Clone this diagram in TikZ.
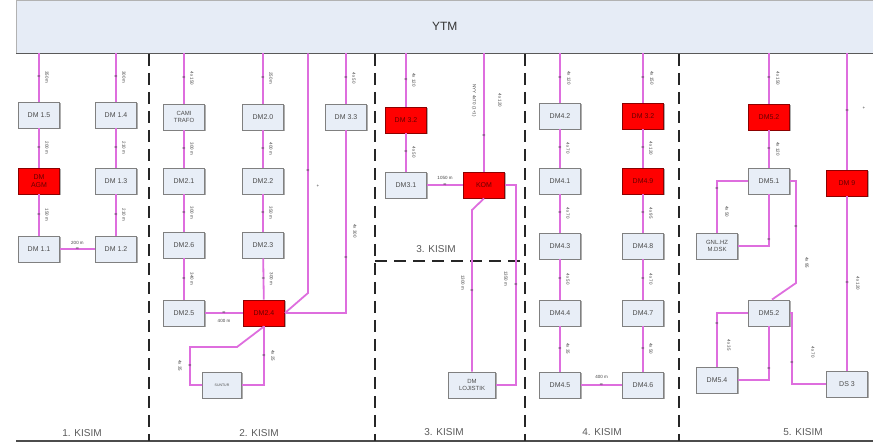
\documentclass[tikz,border=0pt]{standalone}
\usepackage{fontspec}
\setmainfont{Liberation Sans}
\usetikzlibrary{shadows}
\definecolor{boxfill}{RGB}{232,238,247}
\definecolor{hdrfill}{RGB}{230,236,246}
\definecolor{cablec}{RGB}{222,110,222}
\tikzset{
 box/.style={draw=black!50, fill=boxfill, line width=0.9pt, minimum width=41pt, minimum height=26pt, inner sep=1pt, align=center, font=\fontsize{7}{8}\selectfont, text=black!70, drop shadow={shadow xshift=1pt, shadow yshift=-1.2pt, fill=black!45, opacity=0.7}},
 redbox/.style={box, fill=red, draw=red!55!black, text=red!40!black},
 cable/.style={draw=cablec, line width=1.8pt},
 vl/.style={font=\fontsize{4.5}{4.5}\selectfont, text=black!75, rotate=-90, inner sep=0pt},
 mk/.style={font=\fontsize{5.5}{5.5}\selectfont, text=black!80, inner sep=0pt},
 hl/.style={font=\fontsize{4.5}{4.5}\selectfont, text=black!75, inner sep=1pt},
 sep/.style={draw=black!85, line width=2.2pt, dash pattern=on 12pt off 7pt},
 kisim/.style={font=\fontsize{10}{10}\selectfont, text=black!65},
}
\begin{document}
\begin{tikzpicture}[x=1pt,y=-1pt]
\useasboundingbox (0,0) rectangle (873,443);
% header
\node[draw=black!30, fill=hdrfill, minimum width=857pt, minimum height=53pt, anchor=north west, inner sep=0pt, font=\fontsize{12}{12}\selectfont, text=black!80] (hdr) at (16,0) {YTM};
\draw[black!65, line width=1.3pt] (hdr.south west) -- (hdr.south east);
\draw[black!70, line width=1.5pt] (16,441) -- (873,441);
% separators
\draw[sep] (149,54) -- (149,441);
\draw[sep] (375,54) -- (375,441);
\draw[sep] (525,54) -- (525,441);
\draw[sep] (679,54) -- (679,441);
\draw[sep] (375,261) -- (525,261);
% section labels
\node[kisim] (k1l) at (82,433) {1. KISIM};
\node[kisim] (k2l) at (259,433) {2. KISIM};
\node[kisim] (k3a) at (436,249) {3. KISIM};
\node[kisim] (k3l) at (444,432) {3. KISIM};
\node[kisim] (k4l) at (602,432) {4. KISIM};
\node[kisim] (k5l) at (803,432) {5. KISIM};
% section 1 nodes
\node[box] (d15) at (39,115) {DM 1.5};
\node[box] (d14) at (116,115) {DM 1.4};
\node[redbox] (dagm) at (39,181) {DM\\AGM};
\node[box] (d13) at (116,181) {DM 1.3};
\node[box] (d11) at (39,249) {DM 1.1};
\node[box] (d12) at (116,249) {DM 1.2};
% section 2 nodes
\node[box, font=\fontsize{6}{7}\selectfont] (trafo) at (184,117) {CAMI\\TRAFO};
\node[box] (d20) at (263,117) {DM2.0};
\node[box] (d33) at (346,117) {DM 3.3};
\node[box] (d21) at (184,181) {DM2.1};
\node[box] (d22) at (263,181) {DM2.2};
\node[box] (d26) at (184,245) {DM2.6};
\node[box] (d23) at (263,245) {DM2.3};
\node[box] (d25) at (184,313) {DM2.5};
\node[redbox] (d24) at (264,313) {DM2.4};
\node[box, minimum width=39pt, font=\fontsize{3.5}{4}\selectfont] (sun) at (222,385) {SUNTUR};
% section 3 nodes
\node[redbox] (d32) at (406,120) {DM 3.2};
\node[box] (d31) at (406,185) {DM3.1};
\node[redbox] (kom) at (484,185) {KOM};
\node[box, minimum width=47pt, font=\fontsize{6}{7}\selectfont] (loj) at (472,385) {DM\\LOJISTIK};
% section 4 nodes
\node[box] (d42) at (560,116) {DM4.2};
\node[redbox] (d32b) at (643,116) {DM 3.2};
\node[box] (d41) at (560,181) {DM4.1};
\node[redbox] (d49) at (643,181) {DM4.9};
\node[box] (d43) at (560,246) {DM4.3};
\node[box] (d48) at (643,246) {DM4.8};
\node[box] (d44) at (560,313) {DM4.4};
\node[box] (d47) at (643,313) {DM4.7};
\node[box] (d45) at (560,385) {DM4.5};
\node[box] (d46) at (643,385) {DM4.6};
% section 5 nodes
\node[redbox] (d52a) at (769,117) {DM5.2};
\node[box] (d51) at (769,181) {DM5.1};
\node[redbox] (d9) at (847,183) {DM 9};
\node[box, font=\fontsize{6}{7}\selectfont] (gnl) at (717,246) {GNL.HZ\\M.DSK};
\node[box] (d52) at (769,313) {DM5.2};
\node[box] (d54) at (717,380) {DM5.4};
\node[box] (ds3) at (847,384) {DS 3};
% ---- cables section 1
\draw[cable] (d15.north |- hdr.south) -- node[mk]{≈} node[xshift=8pt,vl]{350 m} (d15.north);
\draw[cable] (d15) -- node[mk]{≈} node[xshift=8pt,vl]{200 m} (dagm);
\draw[cable] (dagm) -- node[mk]{≈} node[xshift=8pt,vl]{150 m} (d11);
\draw[cable] (d14.north |- hdr.south) -- node[mk]{≈} node[xshift=8pt,vl]{300 m} (d14.north);
\draw[cable] (d14) -- node[mk]{≈} node[xshift=8pt,vl]{210 m} (d13);
\draw[cable] (d13) -- node[mk]{≈} node[xshift=8pt,vl]{210 m} (d12);
\draw[cable] (d11) -- node[mk]{≈} node[hl,above=3pt]{200 m} (d12);
% ---- cables section 2
\draw[cable] (trafo.north |- hdr.south) -- node[mk]{≈} node[xshift=8pt,vl]{4x 150} (trafo.north);
\draw[cable] (trafo) -- node[mk]{≈} node[xshift=8pt,vl]{300 m} (d21);
\draw[cable] (d21) -- node[mk]{≈} node[xshift=8pt,vl]{300 m} (d26);
\draw[cable] (d26) -- node[mk]{≈} node[xshift=8pt,vl]{340 m} (d25);
\draw[cable] (d20.north |- hdr.south) -- node[mk]{≈} node[xshift=8pt,vl]{250 m} (d20.north);
\draw[cable] (d20) -- node[mk]{≈} node[xshift=8pt,vl]{400 m} (d22);
\draw[cable] (d22) -- node[mk]{≈} node[xshift=8pt,vl]{350 m} (d23);
\draw[cable] (d23) -- node[mk]{≈} node[xshift=8pt,vl]{300 m} (d24);
\draw[cable] (d25) -- node[mk]{≈} node[hl,below=4pt]{400 m} (d24);
\coordinate (c2a) at (308,293);
\draw[cable] (c2a |- hdr.south) -- node[mk, pos=0.49]{≈} (c2a) -- (d24.east);
\node[hl] (plus2) at (318,186) {+};
\draw[cable] (d33.north |- hdr.south) -- node[mk]{≈} node[xshift=8pt,vl]{4x 50} (d33.north);
\draw[cable] (d33.south) -- node[mk, pos=0.7]{≈} node[pos=0.55, xshift=9pt, vl]{4x 300} (d33.south |- d24.east) -- (d24.east);
\draw[cable] (d24.south) -- node[mk]{≈} node[xshift=9pt,vl]{4x 25} (d24.south |- sun.east) -- (sun.east);
\coordinate (c2b) at (237,347);
\coordinate (c2c) at (190,347);
\draw[cable] (d24.south) -- (c2b) -- (c2c) -- node[mk]{≈} node[xshift=-10pt,vl]{4x 35} (c2c |- sun.west) -- (sun.west);
% ---- cables section 3
\draw[cable] (d32.north |- hdr.south) -- node[mk]{≈} node[xshift=8pt,vl]{4x 120} (d32.north);
\draw[cable] (d32) -- node[mk]{≈} node[xshift=8pt,vl]{4x 50} (d31);
\draw[cable] (kom.north |- hdr.south) -- node[mk, pos=0.7]{≈} node[pos=0.4, xshift=-10pt, vl]{NYY 4x70 (1+1)} node[pos=0.4, xshift=16pt, vl]{4x 120} (kom.north);
\draw[cable] (d31) -- node[mk]{≈} node[hl,above=4pt]{1050 m} (kom);
\coordinate (c3a) at (516,185);
\draw[cable] (kom.east) -- (c3a) -- node[mk, pos=0.5]{≈} node[pos=0.47, xshift=-10pt, vl]{1350 m} (c3a |- loj.east) -- (loj.east);
\coordinate (c3b) at (472,210);
\draw[cable] (kom.south) -- (c3b) -- node[mk, pos=0.5]{≈} node[pos=0.45, xshift=-9pt, vl]{1300 m} (loj.north);
% ---- cables section 4
\draw[cable] (d42.north |- hdr.south) -- node[mk]{≈} node[xshift=9pt,vl]{4x 120} (d42.north);
\draw[cable] (d42) -- node[mk]{≈} node[xshift=8pt,vl]{4x 70} (d41);
\draw[cable] (d41) -- node[mk]{≈} node[xshift=8pt,vl]{4x 70} (d43);
\draw[cable] (d43) -- node[mk]{≈} node[xshift=8pt,vl]{4x 50} (d44);
\draw[cable] (d44) -- node[mk]{≈} node[xshift=8pt,vl]{4x 35} (d45);
\draw[cable] (d32b.north |- hdr.south) -- node[mk]{≈} node[xshift=9pt,vl]{4x 150} (d32b.north);
\draw[cable] (d32b) -- node[mk]{≈} node[xshift=8pt,vl]{4x 120} (d49);
\draw[cable] (d49) -- node[mk]{≈} node[xshift=8pt,vl]{4x 95} (d48);
\draw[cable] (d48) -- node[mk]{≈} node[xshift=8pt,vl]{4x 70} (d47);
\draw[cable] (d47) -- node[mk]{≈} node[xshift=8pt,vl]{4x 50} (d46);
\draw[cable] (d45) -- node[mk]{≈} node[hl,above=5pt]{400 m} (d46);
% ---- cables section 5
\draw[cable] (d52a.north |- hdr.south) -- node[mk]{≈} node[xshift=9pt,vl]{4x 150} (d52a.north);
\draw[cable] (d52a) -- node[mk]{≈} node[xshift=9pt,vl]{4x 120} (d51);
\draw[cable] (d9.north |- hdr.south) -- node[mk, pos=0.5]{≈} node[hl, pos=0.47, xshift=17pt]{+} (d9.north);
\draw[cable] (d9) -- node[mk]{≈} node[xshift=11pt,vl]{4x 120} (ds3);
\draw[cable] (d51.west) -- (gnl.north |- d51.west) -- node[mk, pos=0.15]{≈} node[pos=0.6, xshift=10pt, vl]{4x 50} (gnl.north);
\draw[cable] (d51.south) -- node[mk, pos=0.88]{≈} (d51.south |- gnl.east) -- (gnl.east);
\coordinate (c5a) at (796,181);
\coordinate (c5b) at (796,283);
\draw[cable] (d51.east) -- (c5a) -- node[mk, pos=0.45]{≈} node[pos=0.8, xshift=11pt, vl]{4x 95} (c5b) -- ([xshift=3pt]d52.north);
\draw[cable] (d52.west) -- (d54.north |- d52.west) -- node[mk, pos=0.2]{≈} node[pos=0.6, xshift=12pt, vl]{4x 35} (d54.north);
\draw[cable] (d52.south) -- node[mk, pos=0.8]{≈} (d52.south |- d54.east) -- (d54.east);
\coordinate (c5c) at (792,313);
\draw[cable] (d52.east) -- (c5c) -- node[mk, pos=0.7]{≈} node[pos=0.55, xshift=21pt, vl]{4x 70} (c5c |- ds3.west) -- (ds3.west);
\end{tikzpicture}
\end{document}
